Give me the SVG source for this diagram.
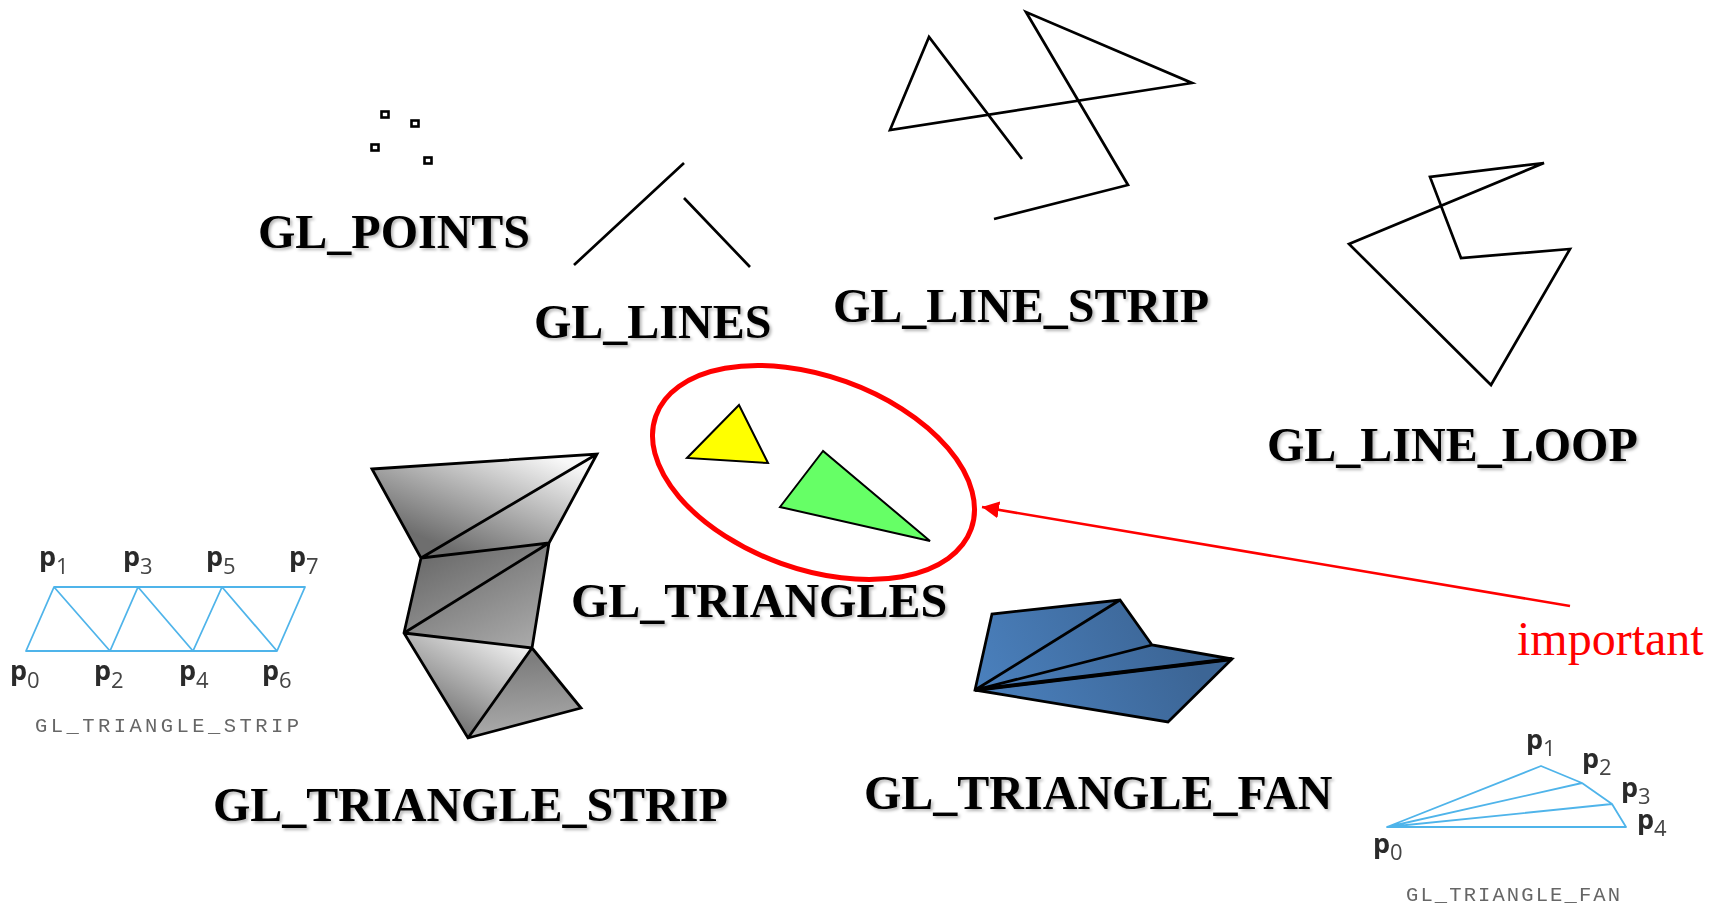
<svg xmlns="http://www.w3.org/2000/svg" width="1715" height="907" viewBox="0 0 1715 907">
<style>
.t{font-family:"Liberation Serif","Times New Roman",serif;font-weight:bold;font-size:48px;fill:#000;filter:url(#sh)}
.k{fill:none;stroke:#000;stroke-width:2.7;stroke-linejoin:miter}
.b{fill:none;stroke:#4fb4ea;stroke-width:1.8;stroke-linejoin:round}
.p{font-family:"Open Sans","Liberation Sans",sans-serif;font-size:27px;font-weight:bold;fill:#2a2a2a}
.p tspan{font-size:22px;font-weight:normal;fill:#444}
.m{font-family:"Liberation Mono",monospace;font-size:20.5px;fill:#666}
.pt{fill:#fff;stroke:#000;stroke-width:2.6}
</style>
<defs>
<filter id="sh" x="-5%" y="-20%" width="110%" height="150%"><feDropShadow dx="2" dy="2" stdDeviation="1.5" flood-color="#000" flood-opacity="0.3"/></filter>
<filter id="bl" x="-5%" y="-5%" width="110%" height="110%"><feGaussianBlur stdDeviation="0.5"/></filter>
<linearGradient id="g1" gradientUnits="userSpaceOnUse" x1="525" y1="445" x2="478" y2="560"><stop offset="0" stop-color="#f8f8f8"/><stop offset="1" stop-color="#6e6e6e"/></linearGradient>
<linearGradient id="g2" gradientUnits="userSpaceOnUse" x1="450" y1="540" x2="510" y2="660"><stop offset="0" stop-color="#6a6a6a"/><stop offset="1" stop-color="#ababab"/></linearGradient>
<linearGradient id="g3" gradientUnits="userSpaceOnUse" x1="510" y1="630" x2="450" y2="735"><stop offset="0" stop-color="#fafafa"/><stop offset="1" stop-color="#6a6a6a"/></linearGradient>
<linearGradient id="g4" gradientUnits="userSpaceOnUse" x1="525" y1="660" x2="530" y2="730"><stop offset="0" stop-color="#7e7e7e"/><stop offset="1" stop-color="#a8a8a8"/></linearGradient>
<linearGradient id="g5" gradientUnits="userSpaceOnUse" x1="985" y1="700" x2="1170" y2="610"><stop offset="0" stop-color="#4a80bd"/><stop offset="1" stop-color="#3c6595"/></linearGradient>
<marker id="ah" markerUnits="userSpaceOnUse" markerWidth="18" markerHeight="18" refX="17" refY="9" orient="auto"><path d="M0 0.500L17 9L0 17.500Z" fill="#f00"/></marker>
</defs>
<rect width="1715" height="907" fill="#fff"/>

<g id="points">
<rect class="pt" x="381.500" y="111.500" width="7" height="6"/>
<rect class="pt" x="411.500" y="120.500" width="7" height="6"/>
<rect class="pt" x="371.500" y="144.500" width="7" height="6"/>
<rect class="pt" x="424.500" y="157.500" width="7" height="6"/>
<text class="t" x="258" y="248">GL_POINTS</text>
</g>
<g id="lines">
<path class="k" d="M574 265L684 163M684 198L750 267"/>
<text class="t" x="534" y="338">GL_LINES</text>
</g>
<g id="line-strip">
<path class="k" d="M1022 159L929 37L890 130L1192 83L1026 12L1128 185L994 219"/>
<text class="t" x="833" y="322">GL_LINE_STRIP</text>
</g>
<g id="line-loop">
<path class="k" d="M1544 163L1430 177L1461 258L1570 249L1491 385L1349 244Z"/>
<text class="t" x="1267" y="461">GL_LINE_LOOP</text>
</g>
<g id="triangles">
<path d="M739 405L687 458L768 463Z" fill="#ff0" stroke="#000" stroke-width="2" stroke-linejoin="miter"/>
<path d="M823 451L780 507L930 541Z" fill="#66ff66" stroke="#000" stroke-width="2" stroke-linejoin="miter"/>
<text class="t" x="571" y="617">GL_TRIANGLES</text>
</g>
<g id="important-ellipse">
<ellipse cx="813.500" cy="472.500" rx="167.500" ry="96.500" transform="rotate(19.700 813.500 472.500)" fill="none" stroke="#f00" stroke-width="5"/>
</g>
<g id="triangle-strip">
<path d="M372 469L597 454L549 543L421 558Z" fill="url(#g1)"/>
<path d="M421 558L549 543L532 648L404 633Z" fill="url(#g2)"/>
<path d="M404 633L532 648L468 738Z" fill="url(#g3)"/>
<path d="M532 648L581 708L468 738Z" fill="url(#g4)"/>
<path class="k" style="stroke-width:2.8" d="M372 469L597 454L549 543L532 648L581 708L468 738L404 633L421 558Z M421 558L597 454M421 558L549 543M404 633L549 543M404 633L532 648M532 648L468 738"/>
<text class="t" x="213" y="821">GL_TRIANGLE_STRIP</text>
</g>
<g id="triangle-fan">
<path d="M975 690L992 614L1120 600L1152 645L1232 659L1168 722Z" fill="url(#g5)"/>
<path class="k" style="stroke-width:2.8" d="M975 690L992 614L1120 600L1152 645L1232 659L1168 722Z M975 690L1120 600M975 690L1152 645M975 690L1232 659"/>
<path d="M975 690L1232 659" stroke="#000" stroke-width="4" fill="none"/>
<text class="t" x="864" y="809">GL_TRIANGLE_FAN</text>
</g>
<g id="strip-diagram" >
<path class="b" d="M54 587H305L277 651H26Z M54 587L110 651L138 587L193 651L222 587L277 651"/>
<g filter="url(#bl)">
<text class="p" x="39" y="566">p<tspan dy="8">1</tspan></text>
<text class="p" x="123" y="566">p<tspan dy="8">3</tspan></text>
<text class="p" x="206" y="566">p<tspan dy="8">5</tspan></text>
<text class="p" x="289" y="566">p<tspan dy="8">7</tspan></text>
<text class="p" x="10" y="680">p<tspan dy="8">0</tspan></text>
<text class="p" x="94" y="680">p<tspan dy="8">2</tspan></text>
<text class="p" x="179" y="680">p<tspan dy="8">4</tspan></text>
<text class="p" x="262" y="680">p<tspan dy="8">6</tspan></text>
<text class="m" x="35" y="732" textLength="264">GL_TRIANGLE_STRIP</text>
</g>
</g>
<g id="fan-diagram">
<path class="b" d="M1387 827L1541 766L1582 783L1612 804L1626 827Z M1387 827L1582 783M1387 827L1612 804"/>
<g filter="url(#bl)">
<text class="p" x="1526" y="749">p<tspan dy="7">1</tspan></text>
<text class="p" x="1582" y="768">p<tspan dy="7">2</tspan></text>
<text class="p" x="1621" y="797">p<tspan dy="7">3</tspan></text>
<text class="p" x="1637" y="829">p<tspan dy="7">4</tspan></text>
<text class="p" x="1373" y="853">p<tspan dy="7">0</tspan></text>
<text class="m" x="1406" y="901" textLength="214">GL_TRIANGLE_FAN</text>
</g>
</g>
<g id="connectors">
<path d="M1570 606L982 507" fill="none" stroke="#f00" stroke-width="2.6" marker-end="url(#ah)"/>
</g>
<g id="important-label">
<text x="1517" y="655" font-family="'Liberation Serif','Times New Roman',serif" font-size="48" fill="#f00">important</text>
</g>
</svg>
